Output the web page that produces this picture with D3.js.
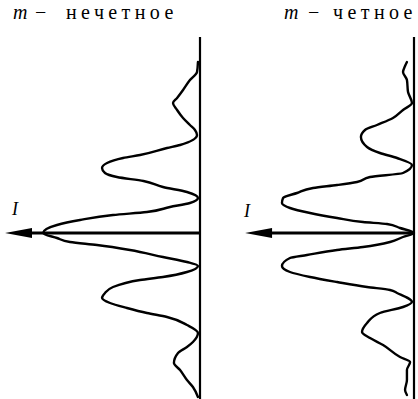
<!DOCTYPE html>
<html>
<head>
<meta charset="utf-8">
<script src="https://cdn.jsdelivr.net/npm/d3@7"></script>
<style>
  html, body { margin: 0; padding: 0; background: #fff; }
  svg { display: block; }
  svg text { font-family: "Liberation Serif", "Times New Roman", Times, serif; }
</style>
</head>
<body>
<div id="chart"></div>
<script>
// Interference intensity profiles for odd and even m.
// Position along the screen (upwards positive) and relative intensity (%).
const titles = ["нечетное", "четное"];
const axisLabel = "I";

const oddPos = [17.1, 16.1, 15.3, 14.3, 13.5, 13.0, 12.3, 11.5, 10.8, 10.3, 9.8,
  8.8, 8.5, 7.8, 7.5, 7.0, 6.5, 6.0, 5.6, 5.2, 4.6, 4.1, 3.5,
  3.0, 2.6, 2.1, 1.8, 1.3, 0.8, 0.0, -0.5, -0.9, -1.2, -1.7, -2.4, -2.9, -3.3,
  -3.9, -4.4, -4.7, -5.4, -6.0, -6.5, -7.0, -7.5, -8.0, -8.4, -9.2, -10.0,
  -10.9, -11.4, -12.0, -13.0, -13.7, -14.7, -15.4, -16.4];
const oddInt = [1.3, 1.9, 6.4, 10.8, 14.6, 17.2, 14.6, 10.8, 6.4, 3.2, 1.9,
  12.7, 21.0, 38.2, 49.0, 59.2, 62.4, 60.5, 52.9, 36.0, 23.6, 8.3, 1.3,
  6.4, 19.1, 33.8, 55.4, 76.4, 91.1, 100, 91.1, 82.8, 65.6, 44.6, 23.6, 8.3, 1.3,
  8.3, 23.6, 38.2, 55.4, 60.5, 62.4, 57.3, 46.5, 33.8, 21.0, 8.3, 1.3,
  4.5, 8.3, 14.0, 16.6, 12.7, 8.3, 4.5, 1.3];

const evenPos = [17.1, 16.7, 16.1, 15.3, 14.1, 13.0, 12.3, 11.5, 10.8, 10.3, 9.6,
  8.6, 8.0, 7.5, 6.8, 6.0, 5.6, 5.1, 4.8, 4.5, 4.0, 3.5, 3.0, 2.5, 2.0, 1.5,
  1.1, 0.9, 0.5, 0.0, -0.4, -0.9, -1.4, -1.7, -2.2, -2.5, -3.3, -3.9, -4.4,
  -4.9, -5.4, -5.7, -6.0, -6.9, -7.4, -8.0, -9.0, -9.9, -10.5, -11.2, -12.4,
  -12.9, -13.7, -14.7, -15.7, -16.2];
const evenInt = [4.5, 5.7, 7.0, 4.5, 3.8, 1.3, 7.0, 13.4, 23.6, 31.2, 33.8,
  29.9, 21.7, 10.8, 1.3, 7.0, 28.0, 36.3, 49.0, 64.3, 74.5, 83.4, 84.1, 79.0, 66.2, 49.0,
  32.5, 17.2, 8.9, 0.0, 7.0, 15.3, 32.5, 49.0, 68.2, 79.0, 84.1, 79.0, 66.2,
  49.0, 29.9, 15.3, 10.8, 1.3, 7.0, 21.7, 29.9, 33.1, 28.0, 19.7, 8.9,
  2.5, 4.5, 4.5, 5.7, 4.5];

// Extent of the intensity arrow (%), and of the screen line (position units).
const arrowMax = [124.2, 107.6];
const screenExtent = [19.6, -16.6];

const W = 418, H = 399;
const svg = d3.select("#chart").append("svg")
  .attr("width", W).attr("height", H)
  .attr("viewBox", `0 0 ${W} ${H}`);

svg.append("rect").attr("width", W).attr("height", H).attr("fill", "#fff");

const y = d3.scaleLinear().domain(screenExtent).range([37, 399]);

// Intensity grows leftwards from each screen line.
const panels = [
  { x0: 200, pos: oddPos, val: oddInt, arrow: arrowMax[0] },
  { x0: 414, pos: evenPos, val: evenInt, arrow: arrowMax[1] }
];

panels.forEach(p => {
  const x = d3.scaleLinear().domain([0, 100]).range([p.x0, p.x0 - 157]);
  const g = svg.append("g");

  // screen line
  g.append("line")
    .attr("x1", x(0)).attr("x2", x(0))
    .attr("y1", y(screenExtent[0])).attr("y2", y(screenExtent[1]))
    .attr("stroke", "#000").attr("stroke-width", 2.2);

  // intensity axis with arrowhead
  const tip = x(p.arrow);
  g.append("line")
    .attr("x1", x(0)).attr("x2", tip + 20)
    .attr("y1", y(0)).attr("y2", y(0))
    .attr("stroke", "#000").attr("stroke-width", 3);
  g.append("path")
    .attr("d", `M${tip},${y(0)} L${tip + 27},${y(0) - 5} L${tip + 27},${y(0) + 5} Z`)
    .attr("fill", "#000");

  // intensity curve
  const pts = p.pos.map((v, i) => [x(p.val[i]), y(v)]);
  g.append("path")
    .attr("d", d3.line().curve(d3.curveMonotoneY)(pts))
    .attr("fill", "none")
    .attr("stroke", "#000")
    .attr("stroke-width", 2.4)
    .attr("stroke-linejoin", "round")
    .attr("stroke-linecap", "round");
});

// titles
const titleDefs = [
  { mx: 13, dx: 35, wx: 66, word: titles[0] },
  { mx: 284, dx: 308, wx: 333, word: titles[1] }
];
titleDefs.forEach(t => {
  svg.append("text").attr("x", t.mx).attr("y", 19)
    .style("font-size", "20px").style("font-style", "italic").text("m");
  svg.append("text").attr("x", t.dx).attr("y", 19)
    .style("font-size", "20px").text("\u2212");
  svg.append("text").attr("x", t.wx).attr("y", 19)
    .style("font-size", "20px")
    .style("letter-spacing", "4.4px")
    .text(t.word);
});

// intensity labels
svg.append("text").attr("x", 12).attr("y", 215)
  .style("font-size", "18px").style("font-style", "italic").text(axisLabel);
svg.append("text").attr("x", 244).attr("y", 217)
  .style("font-size", "18px").style("font-style", "italic").text(axisLabel);
</script>
</body>
</html>
